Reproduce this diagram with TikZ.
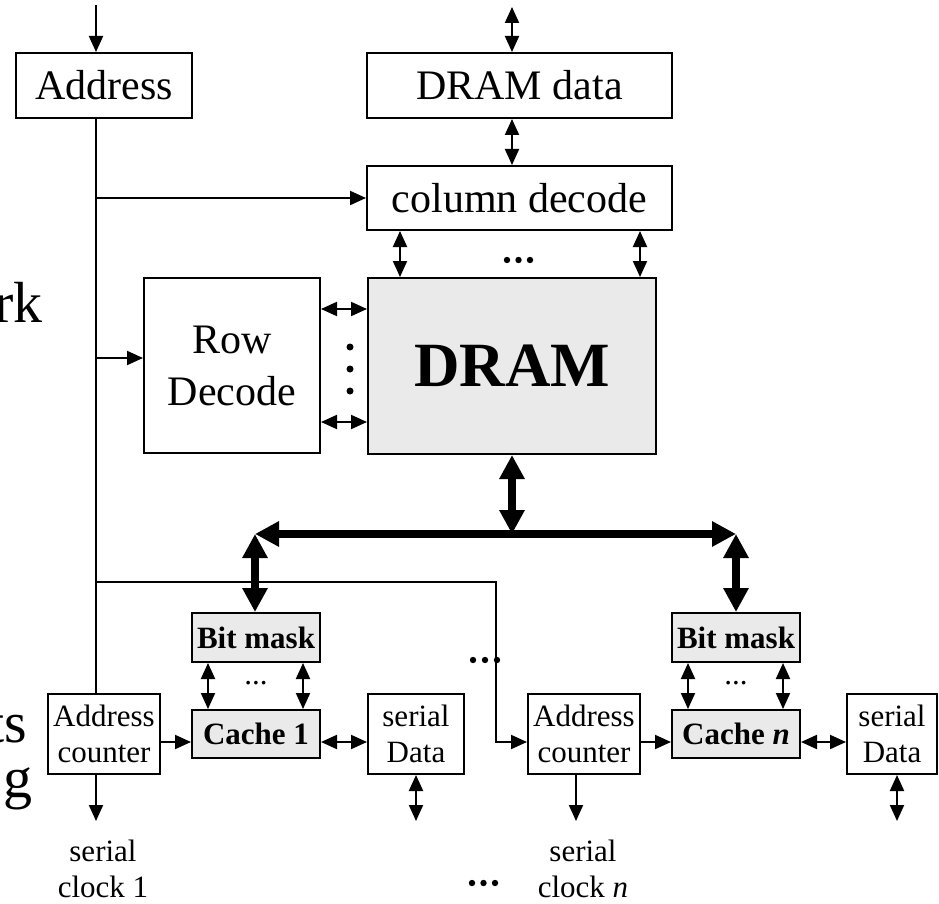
\documentclass[tikz,border=0pt]{standalone}
\usepackage{fontspec}
\setmainfont{Liberation Serif}
\usetikzlibrary{arrows.meta}
\definecolor{cellgray}{RGB}{234,234,234}

\begin{document}
\begin{tikzpicture}[x=1pt,y=-1pt,
  box/.style={draw, line width=2pt, inner sep=0pt, align=center},
  shaded/.style={box, fill=cellgray},
  fbig/.style={font=\fontsize{42}{52}\selectfont},
  fsmall/.style={font=\fontsize{31}{36}\selectfont},
  fslide/.style={font=\fontsize{58}{64}\selectfont, inner sep=0pt},
  wire/.style={line width=2pt},
  arr/.style={wire, -{Triangle[length=16pt,width=14pt]}},
  darr/.style={wire, {Triangle[length=16pt,width=14pt]}-{Triangle[length=16pt,width=14pt]}},
  bus/.style={line width=8pt, {Triangle[length=24pt,width=24pt]}-{Triangle[length=24pt,width=24pt]}},
  dot/.style={fill=black},
]
\useasboundingbox (0,0) rectangle (939,904);

% fragments of the slide text at the left border
\node[fslide, anchor=base east] (frag1) at (43,322) {rk};
\node[fslide, anchor=base east] (frag2) at (27,742) {ts};
\node[fslide, anchor=base east] (frag3) at (33,797) {g};

% upper blocks
\node[box, fbig, minimum width=176pt, minimum height=65pt] (addr)   at (104,85.5)   {Address};
\node[box, fbig, minimum width=305pt, minimum height=65pt] (ddata)  at (519.5,85.5) {DRAM data};
\node[box, fbig, minimum width=305pt, minimum height=64pt] (coldec) at (519.5,198)  {column decode};
\node[box, fbig, minimum width=176pt, minimum height=175pt] (rowdec) at (232,365.5) {Row\\Decode};
\node[shaded, minimum width=288pt, minimum height=176pt, font=\fontsize{63}{70}\selectfont\bfseries] (dram) at (512,366) {DRAM};

% first cache slice
\node[shaded, fsmall, minimum width=128pt, minimum height=49pt] (bm1) at (256,637.5) {\textbf{Bit mask}};
\node[shaded, fsmall, minimum width=128pt, minimum height=48pt] (c1)  at (256,734)   {\textbf{Cache 1}};
\node[box, fsmall, minimum width=112pt, minimum height=80pt] (ac1) at (104,734) {Address\\counter};
\node[box, fsmall, minimum width=96pt,  minimum height=80pt] (sd1) at (416,734) {serial\\Data};
\node[fsmall, align=center] (clk1) at (103,869) {serial\\clock 1};

% last cache slice
\node[shaded, fsmall, minimum width=128pt, minimum height=49pt] (bmn) at (736,637.5) {\textbf{Bit mask}};
\node[shaded, fsmall, minimum width=128pt, minimum height=48pt] (cn)  at (736,734)   {\textbf{Cache \textit{n}}};
\node[box, fsmall, minimum width=112pt, minimum height=80pt] (acn) at (584,734) {Address\\counter};
\node[box, fsmall, minimum width=90pt,  minimum height=80pt] (sdn) at (892,734) {serial\\Data};
\node[fsmall, align=center] (clkn) at (583,869) {serial\\clock \textit{n}};

% small ellipses between bit masks and caches
\node[fsmall, anchor=base] (el1) at (256,684) {...};
\node[fsmall, anchor=base] (el2) at (736,684) {...};

% reference points
\coordinate (vx)   at (96,0);
\coordinate (top1) at (96,5);
\coordinate (top2) at (512,7);
\coordinate (b1)   at (96,198);
\coordinate (b2)   at (96,358);
\coordinate (b3)   at (96,582);
\coordinate (turn) at (496,582);
\coordinate (cL)   at (400,0);
\coordinate (cR)   at (640,0);
\coordinate (r1)   at (0,309);
\coordinate (r2)   at (0,422);
\coordinate (busL) at (255,534);
\coordinate (busR) at (736,534);
\coordinate (busM) at (512,534);
\coordinate (hrow) at (0,742);
\coordinate (ybot) at (0,821);
\coordinate (xn)   at (576,0);
\coordinate (xd)   at (897,0);
\coordinate (m1a)  at (208,0);
\coordinate (m1b)  at (303,0);
\coordinate (mna)  at (688,0);
\coordinate (mnb)  at (783,0);

% address path
\draw[arr]  (top1) -- (vx |- addr.north);
\draw[wire] (vx |- addr.south) -- (vx |- ac1.north);
\draw[arr]  (b1) -- (coldec.west);
\draw[arr]  (b2) -- (rowdec.west |- b2);
\draw[arr]  (b3) -- (turn) |- (acn.west |- hrow);

% data path above the array
\draw[darr] (top2) -- (top2 |- ddata.north);
\draw[darr] (top2 |- ddata.south) -- (top2 |- coldec.north);
\draw[darr] (cL |- coldec.south) -- (cL |- dram.north);
\draw[darr] (cR |- coldec.south) -- (cR |- dram.north);
\draw[darr] (rowdec.east |- r1) -- (dram.west |- r1);
\draw[darr] (rowdec.east |- r2) -- (dram.west |- r2);

% wide internal bus
\draw[bus] (dram.south) -- (busM);
\draw[bus] (busL) -- (busR);
\draw[bus] (busL) -- (busL |- bm1.north);
\draw[bus] (busR) -- (busR |- bmn.north);

% first slice connections
\draw[darr] (m1a |- bm1.south) -- (m1a |- c1.north);
\draw[darr] (m1b |- bm1.south) -- (m1b |- c1.north);
\draw[arr]  (ac1.east |- hrow) -- (c1.west |- hrow);
\draw[darr] (c1.east |- hrow) -- (sd1.west |- hrow);
\draw[arr]  (vx |- ac1.south) -- (vx |- ybot);
\draw[darr] (sd1.south) -- (sd1.south |- ybot);

% last slice connections
\draw[darr] (mna |- bmn.south) -- (mna |- cn.north);
\draw[darr] (mnb |- bmn.south) -- (mnb |- cn.north);
\draw[arr]  (acn.east |- hrow) -- (cn.west |- hrow);
\draw[darr] (cn.east |- hrow) -- (sdn.west |- hrow);
\draw[arr]  (xn |- acn.south) -- (xn |- ybot);
\draw[darr] (xd |- sdn.south) -- (xd |- ybot);

% ellipsis dots
\foreach \x in {507,518.5,530} \fill[dot] (\x,260) circle (3.2pt);
\foreach \y in {347,369,391} \fill[dot] (350,\y) circle (3.5pt);
\foreach \x in {473,485,497} \fill[dot] (\x,660) circle (3.2pt);
\foreach \x in {472,483.5,495} \fill[dot] (\x,883) circle (3.2pt);
\end{tikzpicture}
\end{document}
